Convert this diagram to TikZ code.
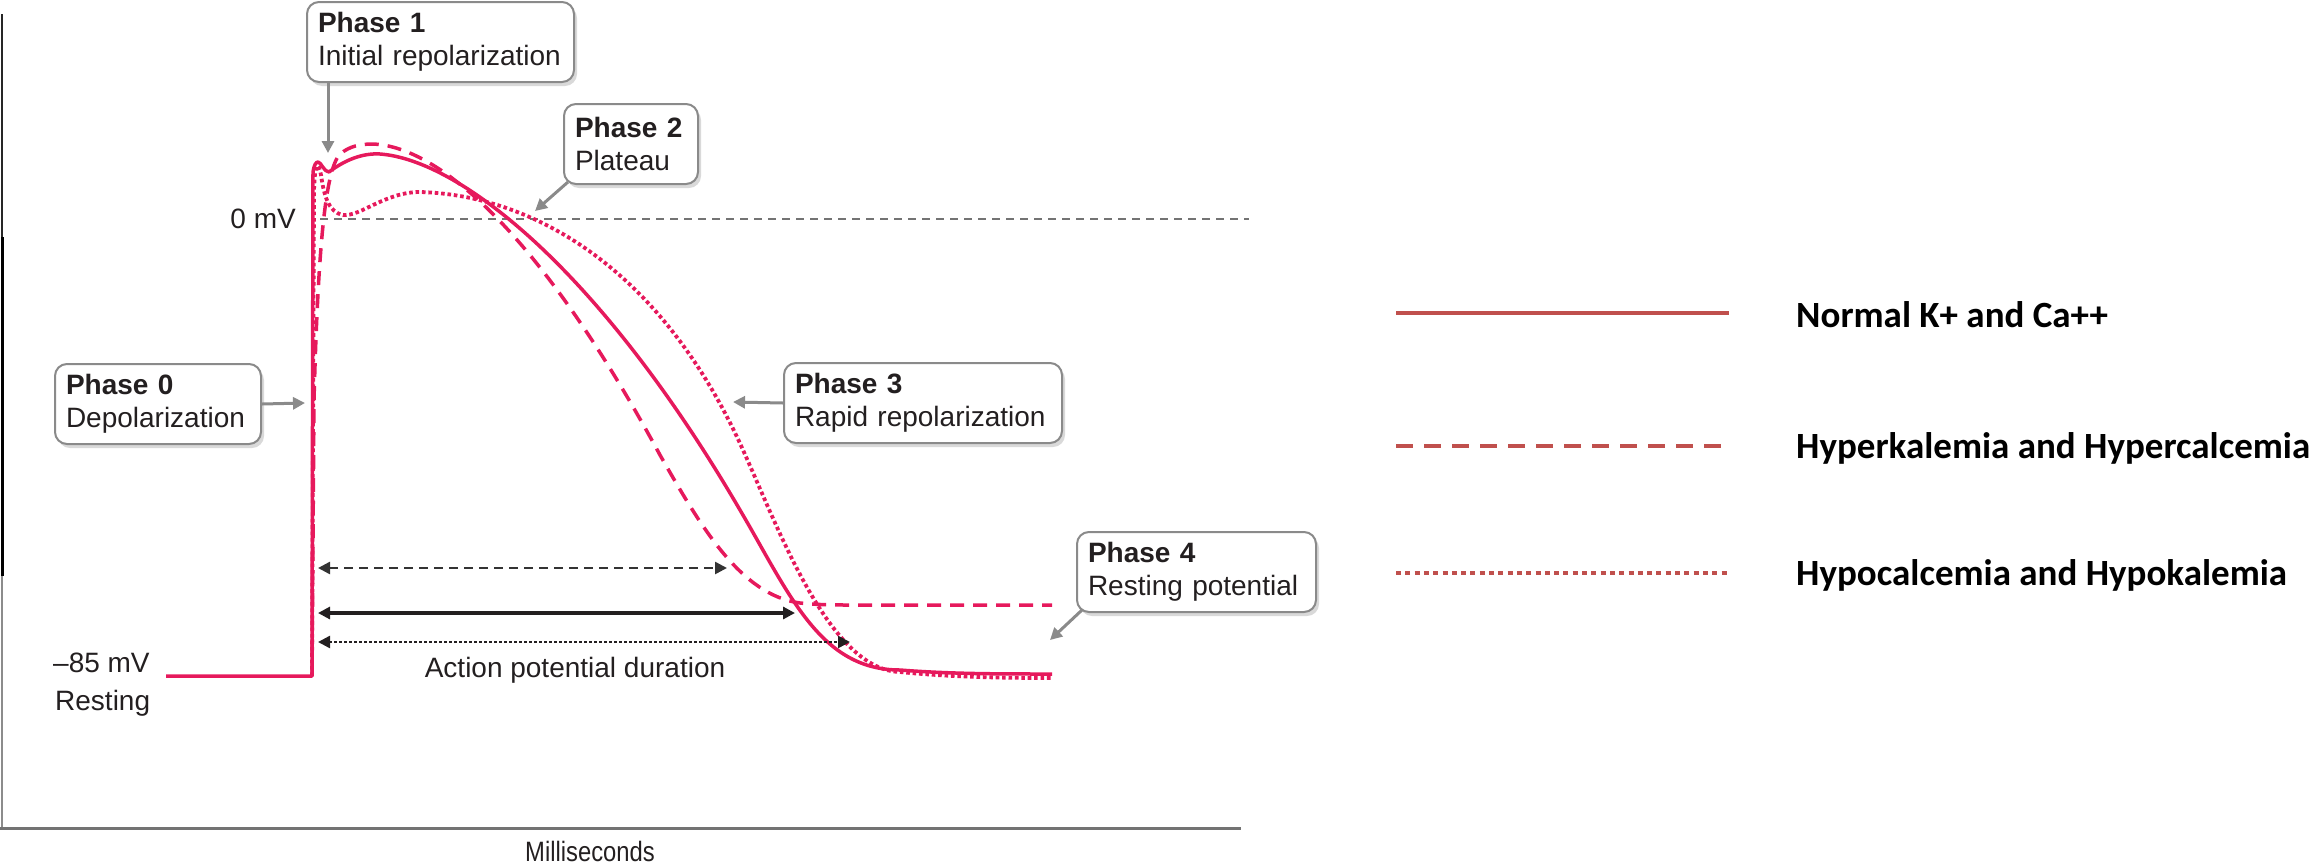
\documentclass[tikz,border=0pt]{standalone}
\usepackage{fontspec}
\setmainfont{Liberation Sans}
\newfontfamily\legfont{Carlito}
\newfontfamily\narrowfont[FakeStretch=0.85]{Liberation Sans}
\usetikzlibrary{arrows.meta,shadows,calc}
\definecolor{apred}{RGB}{230,25,92}
\definecolor{legred}{RGB}{192,80,77}
\definecolor{boxgray}{RGB}{138,138,138}
\definecolor{txt}{RGB}{35,31,32}
\begin{document}
\begin{tikzpicture}[x=1pt,y=-1pt,
  phasebox/.style={draw=boxgray, line width=2pt, rounded corners=12pt, fill=white,
    drop shadow={shadow xshift=3pt,shadow yshift=-4pt,opacity=0.3},
    anchor=north west, align=left, inner xsep=11pt, inner ysep=0pt,
    font=\fontsize{28}{33}\selectfont, text=txt, minimum height=80pt},
  callout/.style={draw=boxgray, line width=3pt, -{Triangle[length=12pt,width=12pt]}},
  lbl/.style={font=\fontsize{28}{33}\selectfont, text=txt, inner sep=0pt},
  apcurve/.style={apred, line width=3.5pt, line join=round},
  hyperdash/.style={dash pattern=on 14pt off 9pt},
  hypodot/.style={line width=3.8pt, dash pattern=on 3.6pt off 2.8pt},
  durarrow/.style={{Triangle[length=12pt,width=12pt]}-{Triangle[length=12pt,width=12pt]}},
  legtext/.style={font=\legfont\bfseries\fontsize{37}{40}\selectfont, anchor=base west, inner sep=0pt},
  legline/.style={legred, line width=4.5pt}
]
\useasboundingbox (0,0) rectangle (2317,865);

% axes
\draw[black!85, line width=2.5pt] (2,14) -- (2,237);
\draw[black, line width=3pt] (2,237) -- (2,576);
\draw[black!45, line width=1.5pt] (2,576) -- (2,828);
\draw[black!55, line width=3pt] (0,828) -- (1241,828);
\node[lbl, font=\narrowfont\fontsize{28}{30}\selectfont, anchor=base] (ms) at (590,861) {Milliseconds};

% 0 mV reference
\node[lbl, anchor=base east] (zero) at (296,228) {0 mV};
\draw[black!55, line width=1.5pt, dash pattern=on 8pt off 6pt] (320,219) -- (1249,219);

% resting labels
\node[lbl, anchor=base west] (rest1) at (53,672) {–85 mV};
\node[lbl, anchor=base west] (rest2) at (55,710) {Resting};

% normal curve
\draw[apcurve] (166,676) -- (312,676) -- (313,172)
  .. controls (314,165) and (316,162) .. (318,162)
  .. controls (321,162) and (324,172) .. (329,172)
  .. controls (345,160) and (362,153) .. (380,154)
  .. controls (460,160) and (600,270) .. (740,510)
  .. controls (790,595) and (820,670) .. (900,670)
  .. controls (950,674) and (1000,674) .. (1052,674);
% hyperkalemia / hypercalcemia
\draw[apcurve, hyperdash] (312,676) -- (314,400)
  .. controls (318,250) and (325,170) .. (340,154)
  .. controls (350,146) and (360,144) .. (373,144)
  .. controls (430,146) and (530,215) .. (660,455)
  .. controls (700,525) and (740,595) .. (800,603)
  .. controls (820,605) and (835,605) .. (850,605) -- (1052,605);
% hypocalcemia / hypokalemia
\draw[apcurve, hypodot] (312,676) -- (314,190)
  .. controls (315,162) and (318,160) .. (321,175)
  .. controls (324,195) and (328,212) .. (343,215)
  .. controls (360,217) and (385,192) .. (420,192)
  .. controls (530,195) and (660,265) .. (743,450)
  .. controls (780,532) and (830,670) .. (900,672)
  .. controls (950,677) and (1000,678) .. (1052,678);

% duration arrows
\coordinate (d1a) at (318,568); \coordinate (d1b) at (727,568);
\coordinate (d2a) at (318,613); \coordinate (d2b) at (795,613);
\coordinate (d3a) at (318,642); \coordinate (d3b) at (850,642);
\draw[durarrow, black!80, line width=2.5pt, dash pattern=on 9pt off 6pt] (d1a) -- (d1b);
\draw[durarrow, txt, line width=4pt] (d2a) -- (d2b);
\draw[durarrow, txt, line width=2.5pt, dash pattern=on 2.5pt off 2.5pt] (d3a) -- (d3b);
\node[lbl, anchor=base] (apd) at (575,677) {Action potential duration};

% phase boxes
\node[phasebox, text width=245pt] (p1) at (306,1) {\textbf{Phase 1}\\Initial repolarization};
\node[phasebox, text width=112pt] (p2) at (563,103) {\textbf{Phase 2}\\Plateau};
\node[phasebox, text width=184pt] (p0) at (54,363) {\textbf{Phase 0}\\Depolarization};
\node[phasebox, text width=256pt] (p3) at (783,362) {\textbf{Phase 3}\\Rapid repolarization};
\node[phasebox, text width=217pt] (p4) at (1076,531) {\textbf{Phase 4}\\Resting potential};

\coordinate (t1) at (328,153);
\coordinate (t2) at (535,211);
\coordinate (t0) at (305,403);
\coordinate (t3) at (733,402);
\coordinate (t4) at (1050,640);
\draw[callout] (t1 |- p1.south) -- (t1);
\draw[callout] ($(p2.south west)+(5,-3)$) -- (t2);
\draw[callout] (p0.east) -- (t0);
\draw[callout] (p3.west) -- (t3);
\draw[callout] ($(p4.south west)+(6,-3)$) -- (t4);

% legend
\coordinate (la1) at (1396,313); \coordinate (lb1) at (1729,313);
\coordinate (la2) at (1396,446); \coordinate (lb2) at (1729,446);
\coordinate (la3) at (1396,573); \coordinate (lb3) at (1727,573);
\draw[legline] (la1) -- (lb1);
\draw[legline, dash pattern=on 17pt off 11pt] (la2) -- (lb2);
\draw[legline, line width=4pt, dash pattern=on 5pt off 4.3pt] (la3) -- (lb3);
\node[legtext] (lt1) at (1796,327) {Normal K+ and Ca++};
\node[legtext] (lt2) at (1796,458) {Hyperkalemia and Hypercalcemia};
\node[legtext] (lt3) at (1796,585) {Hypocalcemia and Hypokalemia};
\end{tikzpicture}
\end{document}
